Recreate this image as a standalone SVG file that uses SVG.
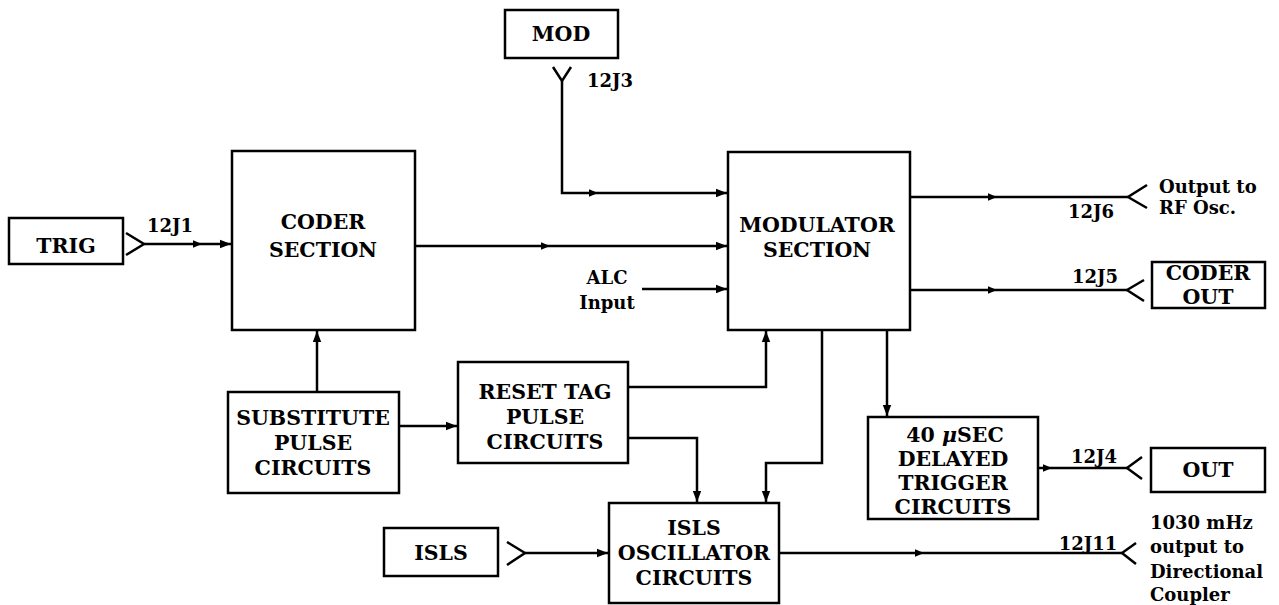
<svg xmlns="http://www.w3.org/2000/svg" xmlns:xlink="http://www.w3.org/1999/xlink" width="1279" height="605" viewBox="0 0 1279 605">
<defs>
<style>
.box{fill:#fff;stroke:#000;stroke-width:2.5}
.ln{fill:none;stroke:#000;stroke-width:2.5}
.jk{fill:none;stroke:#000;stroke-width:2.5;stroke-linejoin:miter}
.t{font-family:"DejaVu Serif",serif;font-weight:bold;font-size:20.5px;text-anchor:middle;fill:#000}
.lb{font-family:"DejaVu Serif",serif;font-weight:bold;font-size:18px;text-anchor:middle;fill:#000}
.tl{font-family:"DejaVu Serif",serif;font-weight:bold;font-size:18px;fill:#000}
</style>
<marker id="a" viewBox="-11 -5 12 10" refX="0" refY="0" markerWidth="12" markerHeight="10" markerUnits="userSpaceOnUse" orient="auto">
<path d="M-11,-4.2 L0,0 L-11,4.2 z" fill="#000"/>
</marker>
<path id="mh" d="M-9,-3.8 L0,0 L-9,3.8 z" fill="#000"/>
</defs>
<rect width="1279" height="605" fill="#fff"/>

<g id="connectors">
<!-- TRIG to CODER -->
<polyline class="jk" points="126,233 144,244 126,255"/>
<line class="ln" x1="144" y1="244" x2="231" y2="244" marker-end="url(#a)"/>
<use xlink:href="#mh" transform="translate(202,244)"/>
<!-- MOD jack -->
<polyline class="jk" points="553,67 562,81 571,67"/>
<polyline class="ln" points="562,81 562,193 727,193" marker-end="url(#a)"/>
<use xlink:href="#mh" transform="translate(598,193)"/>
<!-- CODER to MODULATOR -->
<line class="ln" x1="415" y1="246" x2="727" y2="246" marker-end="url(#a)"/>
<use xlink:href="#mh" transform="translate(550,246)"/>
<!-- ALC -->
<line class="ln" x1="642" y1="289" x2="727" y2="289" marker-end="url(#a)"/>
<!-- MODULATOR to 12J6 -->
<line class="ln" x1="910" y1="197" x2="1128" y2="197"/>
<use xlink:href="#mh" transform="translate(997,197)"/>
<polyline class="jk" points="1147,185 1128,197 1147,208"/>
<!-- MODULATOR to 12J5 -->
<line class="ln" x1="910" y1="290" x2="1127" y2="290"/>
<use xlink:href="#mh" transform="translate(997,290)"/>
<polyline class="jk" points="1144,280 1127,290 1144,301"/>
<!-- MODULATOR to 40 uSEC -->
<line class="ln" x1="887" y1="330" x2="887" y2="416" marker-end="url(#a)"/>
<!-- 40 uSEC to 12J4 -->
<line class="ln" x1="1038" y1="468" x2="1127" y2="468"/>
<use xlink:href="#mh" transform="translate(1052,468)"/>
<polyline class="jk" points="1142,457 1127,468 1142,479"/>
<!-- OSC to 12J11 -->
<line class="ln" x1="779" y1="553" x2="1122" y2="553"/>
<use xlink:href="#mh" transform="translate(924,553)"/>
<polyline class="jk" points="1136,543 1122,553 1136,564"/>
<!-- SUBSTITUTE to CODER -->
<line class="ln" x1="317" y1="392" x2="317" y2="331" marker-end="url(#a)"/>
<!-- SUBSTITUTE to RESET -->
<line class="ln" x1="399" y1="426" x2="457" y2="426" marker-end="url(#a)"/>
<!-- RESET to MODULATOR -->
<polyline class="ln" points="628,387 766,387 766,331" marker-end="url(#a)"/>
<!-- RESET to OSC -->
<polyline class="ln" points="628,438 697,438 697,502" marker-end="url(#a)"/>
<!-- MODULATOR to OSC -->
<polyline class="ln" points="822,330 822,463 766,463 766,502" marker-end="url(#a)"/>
<!-- ISLS to OSC -->
<polyline class="jk" points="507,542 525,553 507,565"/>
<line class="ln" x1="525" y1="553" x2="608" y2="553" marker-end="url(#a)"/>
</g>

<g id="mod">
<rect class="box" x="505" y="10" width="113" height="48"/>
<text class="t" x="561" y="41">MOD</text>
</g>
<g id="trig">
<rect class="box" x="9" y="218" width="114" height="46"/>
<text class="t" x="66" y="253">TRIG</text>
</g>
<g id="coder">
<rect class="box" x="232" y="151" width="183" height="179"/>
<text class="t" x="323" y="229">CODER</text>
<text class="t" x="323" y="257">SECTION</text>
</g>
<g id="modulator">
<rect class="box" x="728" y="152" width="182" height="178"/>
<text class="t" x="817" y="232">MODULATOR</text>
<text class="t" x="817" y="257">SECTION</text>
</g>
<g id="substitute">
<rect class="box" x="228" y="392" width="171" height="101"/>
<text class="t" x="313" y="425">SUBSTITUTE</text>
<text class="t" x="313" y="450">PULSE</text>
<text class="t" x="313" y="475">CIRCUITS</text>
</g>
<g id="reset">
<rect class="box" x="458" y="362" width="170" height="101"/>
<text class="t" x="545" y="399">RESET TAG</text>
<text class="t" x="545" y="424">PULSE</text>
<text class="t" x="545" y="449">CIRCUITS</text>
</g>
<g id="isls">
<rect class="box" x="384" y="528" width="114" height="48"/>
<text class="t" x="441" y="560">ISLS</text>
</g>
<g id="oscillator">
<rect class="box" x="609" y="503" width="170" height="100"/>
<text class="t" x="694" y="535">ISLS</text>
<text class="t" x="694" y="560">OSCILLATOR</text>
<text class="t" x="694" y="585">CIRCUITS</text>
</g>
<g id="delayed">
<rect class="box" x="868" y="417" width="170" height="102"/>
<text class="t" x="955" y="442">40 <tspan font-style="italic">μ</tspan>SEC</text>
<text class="t" x="953" y="466">DELAYED</text>
<text class="t" x="953" y="490">TRIGGER</text>
<text class="t" x="953" y="514">CIRCUITS</text>
</g>
<g id="coderout">
<rect class="box" x="1152" y="262" width="113" height="46"/>
<text class="t" x="1208" y="280">CODER</text>
<text class="t" x="1208" y="304">OUT</text>
</g>
<g id="out">
<rect class="box" x="1151" y="448" width="114" height="44"/>
<text class="t" x="1208" y="477">OUT</text>
</g>

<g id="labels">
<text class="lb" x="170" y="232">12J1</text>
<text class="lb" x="610" y="87">12J3</text>
<text class="lb" x="1091" y="218">12J6</text>
<text class="lb" x="1095" y="283">12J5</text>
<text class="lb" x="1094" y="463">12J4</text>
<text class="lb" x="1088" y="550">12J11</text>
<text class="lb" x="607" y="284">ALC</text>
<text class="lb" x="607" y="309">Input</text>
<text class="tl" x="1159" y="193">Output to</text>
<text class="tl" x="1159" y="214">RF Osc.</text>
<text class="tl" x="1150" y="529">1030 mHz</text>
<text class="tl" x="1150" y="553">output to</text>
<text class="tl" x="1150" y="578">Directional</text>
<text class="tl" x="1150" y="601">Coupler</text>
</g>
</svg>
